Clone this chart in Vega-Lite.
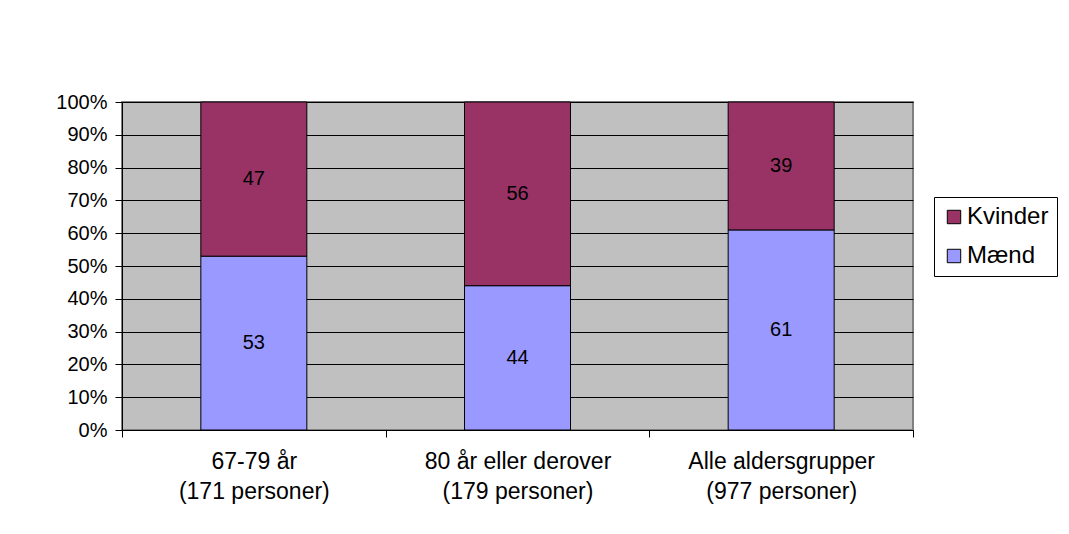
{
  "$schema": "https://vega.github.io/schema/vega-lite/v6.json",
  "width": 791,
  "height": 328,
  "autosize": {"type": "none"},
  "padding": {"left": 122, "top": 102, "right": 156, "bottom": 104},
  "background": "white",
  "config": {
    "font": "Liberation Sans",
    "view": {"fill": "#C0C0C0", "stroke": "#808080", "strokeWidth": 2},
    "axisY": {
      "title": null,
      "values": [0, 10, 20, 30, 40, 50, 60, 70, 80, 90, 100],
      "labelExpr": "datum.value + '%'",
      "labelOverlap": false,
      "labelFontSize": 20,
      "labelColor": "black",
      "labelPadding": 8,
      "tickSize": 7,
      "tickColor": "black",
      "domainColor": "black",
      "grid": true,
      "gridColor": "black",
      "gridOpacity": 1,
      "gridWidth": 1
    }
  },
  "data": {
    "values": [
      {"gruppe": "67-79 år (171 personer)", "koen": "Mænd", "pct": 53, "ord": 1},
      {"gruppe": "67-79 år (171 personer)", "koen": "Kvinder", "pct": 47, "ord": 2},
      {"gruppe": "80 år eller derover (179 personer)", "koen": "Mænd", "pct": 44, "ord": 1},
      {"gruppe": "80 år eller derover (179 personer)", "koen": "Kvinder", "pct": 56, "ord": 2},
      {"gruppe": "Alle aldersgrupper (977 personer)", "koen": "Mænd", "pct": 61, "ord": 1},
      {"gruppe": "Alle aldersgrupper (977 personer)", "koen": "Kvinder", "pct": 39, "ord": 2}
    ]
  },
  "transform": [
    {"stack": "pct", "groupby": ["gruppe"], "sort": [{"field": "ord", "order": "ascending"}], "as": ["y0", "y1"]},
    {"calculate": "(datum.y0 + datum.y1) / 2", "as": "ymid"}
  ],
  "layer": [
    {
      "mark": {"type": "bar", "width": 106, "stroke": "black", "strokeWidth": 1},
      "encoding": {
        "x": {
          "field": "gruppe", "type": "nominal", "sort": null,
          "scale": {"paddingInner": 0, "paddingOuter": 0},
          "axis": {
            "title": null,
            "labelAngle": 0,
            "labelFontSize": 23,
            "labelLineHeight": 30,
            "labelColor": "black",
            "labelPadding": 13,
            "labelLimit": 400,
            "tickBand": "extent",
            "tickSize": 7,
            "tickColor": "black",
            "domainColor": "black",
            "grid": false,
            "labelExpr": "[slice(datum.label, 0, indexof(datum.label, ' (')), slice(datum.label, indexof(datum.label, ' (') + 1)]"
          }
        },
        "y": {
          "field": "y0", "type": "quantitative",
          "scale": {"domain": [0, 100], "nice": false},
          "axis": {"values": [0, 10, 20, 30, 40, 50, 60, 70, 80, 90, 100], "tickCount": 11, "labelOverlap": false}
        },
        "y2": {"field": "y1"},
        "color": {
          "field": "koen", "type": "nominal",
          "scale": {"domain": ["Kvinder", "Mænd"], "range": ["#993366", "#9999FF"]},
          "legend": {
            "title": null,
            "orient": "none",
            "legendX": 812,
            "legendY": 95,
            "strokeColor": "black",
            "fillColor": "white",
            "padding": 8,
            "symbolType": "square",
            "symbolSize": 180,
            "symbolStrokeColor": "black",
            "symbolStrokeWidth": 1,
            "symbolOpacity": 1,
            "labelFontSize": 24,
            "labelColor": "black",
            "labelOffset": 1,
            "rowPadding": 15
          }
        }
      }
    },
    {
      "mark": {"type": "text", "fontSize": 20, "color": "black"},
      "encoding": {
        "x": {"field": "gruppe", "type": "nominal", "sort": null},
        "y": {"field": "ymid", "type": "quantitative", "axis": {"values": [0, 10, 20, 30, 40, 50, 60, 70, 80, 90, 100], "tickCount": 11, "labelOverlap": false}},
        "text": {"field": "pct", "type": "quantitative"}
      }
    }
  ]
}
